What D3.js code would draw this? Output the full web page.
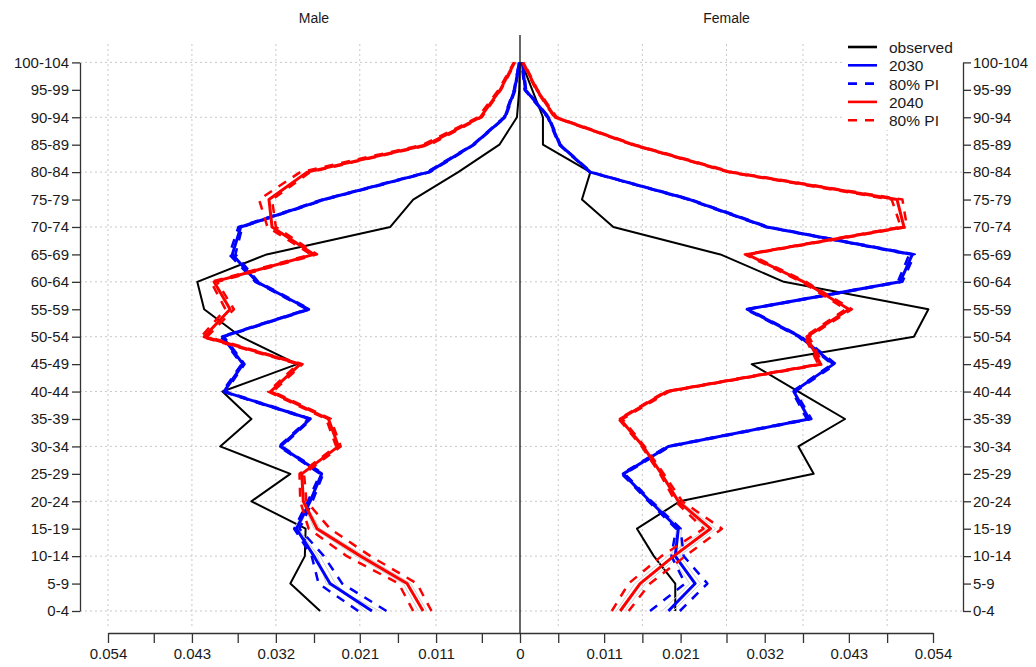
<!DOCTYPE html>
<html>
<head>
<meta charset="utf-8">
<script src="https://cdn.jsdelivr.net/npm/d3@7"></script>
<style>
  html, body { margin: 0; padding: 0; background: #fff; }
  svg { display: block; font-family: "Liberation Sans", Arial, sans-serif; }
</style>
</head>
<body>
<svg id="chart" width="1036" height="667"></svg>
<script>
// Age groups, youngest first
const ageGroups = ["0-4","5-9","10-14","15-19","20-24","25-29","30-34","35-39","40-44","45-49",
  "50-54","55-59","60-64","65-69","70-74","75-79","80-84","85-89","90-94","95-99","100-104"];

// Proportions of population by age, males
const maleObserved = [0.0262,0.0301,0.0282,0.0281,0.0352,0.0301,0.0393,0.0352,0.0390,0.0292,
  0.0366,0.0414,0.0423,0.0332,0.0170,0.0140,0.0081,0.0027,0.0004,0.0001,0.00002];
const male2030 = [0.0194,0.0249,0.0270,0.0293,0.0275,0.0260,0.0314,0.0275,0.0388,0.0363,
  0.0390,0.0277,0.0345,0.0377,0.0366,0.0257,0.0120,0.0061,0.0020,0.0007,0.0001];
const male2030Low = [0.0175,0.0233,0.0257,0.0289,0.0272,0.0258,0.0312,0.0273,0.0386,0.0361,
  0.0388,0.0275,0.0343,0.0373,0.0364,0.0255,0.0118,0.0060,0.0019,0.0006,0.0001];
const male2030High = [0.0212,0.0264,0.0273,0.0296,0.0278,0.0262,0.0316,0.0277,0.0390,0.0365,
  0.0392,0.0279,0.0347,0.0381,0.0369,0.0259,0.0122,0.0062,0.0021,0.0008,0.0001];
const male2040 = [0.0127,0.0148,0.0209,0.0266,0.0284,0.0286,0.0238,0.0251,0.0327,0.0288,
  0.0414,0.0380,0.0401,0.0270,0.0325,0.0329,0.0279,0.0122,0.0052,0.0026,0.0007];
const male2040Low = [0.0116,0.0135,0.0196,0.0249,0.0280,0.0283,0.0235,0.0248,0.0324,0.0285,
  0.0410,0.0375,0.0397,0.0266,0.0320,0.0325,0.0275,0.0118,0.0050,0.0025,0.0006];
const male2040High = [0.0140,0.0159,0.0227,0.0277,0.0288,0.0289,0.0241,0.0254,0.0330,0.0291,
  0.0418,0.0386,0.0405,0.0274,0.0331,0.0342,0.0288,0.0127,0.0055,0.0028,0.0008];

// Proportions of population by age, females
const femaleObserved = [0.0203,0.0203,0.0175,0.0153,0.0209,0.0384,0.0364,0.0425,0.0364,0.0303,
  0.0515,0.0534,0.0345,0.0262,0.0122,0.0081,0.0092,0.0030,0.0030,0.0016,0.0002];
const female2030 = [0.0194,0.0229,0.0203,0.0207,0.0170,0.0135,0.0194,0.0378,0.0358,0.0410,
  0.0366,0.0297,0.0497,0.0513,0.0323,0.0222,0.0092,0.0052,0.0037,0.0007,0.0003];
const female2030Low = [0.0170,0.0216,0.0198,0.0204,0.0168,0.0133,0.0192,0.0375,0.0356,0.0408,
  0.0364,0.0295,0.0494,0.0509,0.0321,0.0220,0.0091,0.0051,0.0036,0.0006,0.0002];
const female2030High = [0.0209,0.0245,0.0214,0.0210,0.0172,0.0137,0.0196,0.0381,0.0360,0.0413,
  0.0368,0.0299,0.0500,0.0516,0.0325,0.0224,0.0093,0.0053,0.0038,0.0008,0.0004];
const female2040 = [0.0131,0.0157,0.0201,0.0249,0.0207,0.0185,0.0161,0.0131,0.0192,0.0393,
  0.0375,0.0430,0.0371,0.0297,0.0502,0.0493,0.0275,0.0148,0.0046,0.0022,0.0004];
const female2040Low = [0.0120,0.0142,0.0185,0.0240,0.0203,0.0183,0.0159,0.0129,0.0190,0.0390,
  0.0372,0.0426,0.0368,0.0294,0.0498,0.0486,0.0272,0.0146,0.0045,0.0021,0.0003];
const female2040High = [0.0142,0.0170,0.0216,0.0264,0.0212,0.0188,0.0163,0.0134,0.0195,0.0396,
  0.0378,0.0434,0.0374,0.0300,0.0506,0.0500,0.0278,0.0150,0.0048,0.0023,0.0005];

// A few simulated trajectories for the youngest five age groups
const maleTraj2030 = [[0.0184,0.0254,0.0265,0.0290,0.0274],[0.0203,0.0242,0.0262,0.0296,0.0276]];
const maleTraj2040 = [[0.0122,0.0143,0.0203,0.0262,0.0283],[0.0133,0.0153,0.0215,0.0270,0.0285]];
const femaleTraj2030 = [[0.0186,0.0222,0.0198,0.0205,0.0172],[0.0200,0.0236,0.0209,0.0211,0.0175]];
const femaleTraj2040 = [[0.0126,0.0150,0.0193,0.0244,0.0205],[0.0137,0.0164,0.0208,0.0256,0.0210]];

// Axis ticks
const xTickValues = [0, 0.011, 0.021, 0.032, 0.043, 0.054];
const xTickLabels = ["0", "0.011", "0.021", "0.032", "0.043", "0.054"];
const xMinorTicks = [0.005, 0.016, 0.027, 0.037, 0.048];
const gridAges = ["0-4","10-14","20-24","30-34","40-44","50-54","60-64","70-74","80-84","90-94","100-104"];

// Legend entries
const legendLabels = ["observed", "2030", "80% PI", "2040", "80% PI"];
const legendColors = ["#000000", "#0000ff", "#0000ff", "#ff0000", "#ff0000"];
const legendDashed = [false, false, true, false, true];

const svg = d3.select("#chart");
const xMid = 520, xMax = 0.054;
const xLeft = d3.scaleLinear().domain([0, xMax]).range([xMid, 108]);
const xRight = d3.scaleLinear().domain([0, xMax]).range([xMid, 933]);
const y = d3.scalePoint().domain(ageGroups).range([611, 62.4]);
const axisX = 633;
const fontSize = 15;
const textColor = "#1a1a1a";

// Grid
const grid = svg.append("g").attr("stroke", "#c8c8c8").attr("stroke-width", 1)
  .attr("stroke-dasharray", "2,3");
grid.selectAll("line.h").data(gridAges).join("line")
  .attr("x1", 80).attr("x2", 963)
  .attr("y1", d => y(d)).attr("y2", d => y(d));
grid.selectAll("line.vl").data(xTickValues.filter(v => v > 0)).enter().append("line")
  .attr("x1", d => xLeft(d)).attr("x2", d => xLeft(d)).attr("y1", 44).attr("y2", 627);
grid.selectAll("line.vr").data(xMinorTicks).enter().append("line")
  .attr("x1", d => xRight(d)).attr("x2", d => xRight(d)).attr("y1", 44).attr("y2", 627);

// Line helpers
function series(vals) { return vals.map((v, i) => ({ age: ageGroups[i], v })); }
const lineL = d3.line().x(d => xLeft(d.v)).y(d => y(d.age));
const lineR = d3.line().x(d => xRight(d.v)).y(d => y(d.age));

function draw(gen, vals, color, width, dash) {
  svg.append("path").datum(series(vals))
    .attr("d", gen).attr("fill", "none")
    .attr("stroke", color).attr("stroke-width", width)
    .attr("stroke-linejoin", "round")
    .attr("stroke-dasharray", dash || null);
}

// Observed
draw(lineL, maleObserved, "#000", 2);
draw(lineR, femaleObserved, "#000", 2);

// Simulated trajectories
[...maleTraj2030, ...maleTraj2040].forEach(t => draw(lineL, t, "#cfcfcf", 1));
[...femaleTraj2030, ...femaleTraj2040].forEach(t => draw(lineR, t, "#cfcfcf", 1));

// 2030 forecast
draw(lineL, male2030Low, "#0000ff", 2.5, "9,8");
draw(lineL, male2030High, "#0000ff", 2.5, "9,8");
draw(lineL, male2030, "#0000ff", 3);
draw(lineR, female2030Low, "#0000ff", 2.5, "9,8");
draw(lineR, female2030High, "#0000ff", 2.5, "9,8");
draw(lineR, female2030, "#0000ff", 3);

// 2040 forecast
draw(lineL, male2040Low, "#ff0000", 2.5, "9,8");
draw(lineL, male2040High, "#ff0000", 2.5, "9,8");
draw(lineL, male2040, "#ff0000", 3);
draw(lineR, female2040Low, "#ff0000", 2.5, "9,8");
draw(lineR, female2040High, "#ff0000", 2.5, "9,8");
draw(lineR, female2040, "#ff0000", 3);

// Centre line
svg.append("line").attr("x1", xMid).attr("x2", xMid).attr("y1", 35).attr("y2", axisX)
  .attr("stroke", "#000").attr("stroke-width", 1.2);

// Axes
function styleAxis(g) {
  g.selectAll(".domain").attr("stroke", "#333").attr("stroke-width", 1.3);
  g.selectAll(".tick line").attr("stroke", "#333").attr("stroke-width", 1.3);
  g.selectAll(".tick text").attr("fill", textColor)
    .attr("font-size", fontSize).attr("font-family", "Liberation Sans, Arial, sans-serif");
}

const labelOf = v => xTickLabels[xTickValues.indexOf(v)];
svg.append("g").attr("transform", `translate(0,${axisX})`)
  .call(d3.axisBottom(xLeft).tickValues(xTickValues).tickFormat(labelOf)
    .tickSize(10).tickSizeOuter(0).tickPadding(5))
  .call(styleAxis);
svg.append("g").attr("transform", `translate(0,${axisX})`)
  .call(d3.axisBottom(xRight).tickValues(xTickValues.filter(v => v > 0)).tickFormat(labelOf)
    .tickSize(10).tickSizeOuter(0).tickPadding(5))
  .call(styleAxis);
svg.append("g").attr("transform", `translate(0,${axisX})`)
  .call(d3.axisBottom(xLeft).tickValues(xMinorTicks).tickFormat("")
    .tickSize(10).tickSizeOuter(0))
  .call(styleAxis).select(".domain").remove();
svg.append("g").attr("transform", `translate(0,${axisX})`)
  .call(d3.axisBottom(xRight).tickValues(xMinorTicks).tickFormat("")
    .tickSize(10).tickSizeOuter(0))
  .call(styleAxis).select(".domain").remove();

svg.append("g").attr("transform", "translate(80,0)")
  .call(d3.axisLeft(y).tickSize(8).tickSizeOuter(0).tickPadding(3))
  .call(styleAxis);
svg.append("g").attr("transform", "translate(963,0)")
  .call(d3.axisRight(y).tickSize(8).tickSizeOuter(0).tickPadding(2))
  .call(styleAxis);

// Panel titles
svg.append("text").attr("x", (xLeft(0) + xLeft(xMax)) / 2).attr("y", 23)
  .attr("text-anchor", "middle").attr("font-size", 14).attr("fill", textColor).text("Male");
svg.append("text").attr("x", (xRight(0) + xRight(xMax)) / 2).attr("y", 23)
  .attr("text-anchor", "middle").attr("font-size", 14).attr("fill", textColor).text("Female");

// Legend
const legend = svg.append("g");
legend.append("rect").attr("x", 843).attr("y", 36).attr("width", 119).attr("height", 94)
  .attr("fill", "#fff");
const rowY = i => 47 + i * 18.3;
legendLabels.forEach((lab, i) => {
  legend.append("line").attr("x1", 848).attr("x2", 877)
    .attr("y1", rowY(i)).attr("y2", rowY(i))
    .attr("stroke", legendColors[i]).attr("stroke-width", 2.6)
    .attr("stroke-dasharray", legendDashed[i] ? "9,8" : null);
  legend.append("text").attr("x", 889).attr("y", rowY(i) + 6)
    .attr("font-size", 15.5).attr("fill", textColor).text(lab);
});
</script>
</body>
</html>
